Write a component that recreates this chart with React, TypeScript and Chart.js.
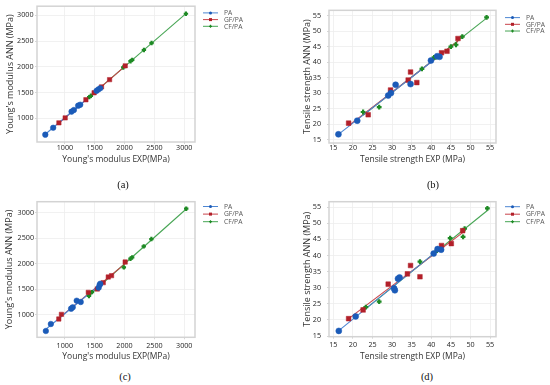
import React, { useEffect, useRef } from "react";
import { Chart, registerables } from "chart.js";

Chart.register(...registerables);

// ---------- shared labels / ticks ----------
const SERIES_NAMES = ["PA", "GF/PA", "CF/PA"];
const YOUNG_TICKS = [1000, 1500, 2000, 2500, 3000];
const TENSILE_TICKS = [15, 20, 25, 30, 35, 40, 45, 50, 55];
const YOUNG_X_TITLE = "Young's modulus EXP(MPa)";
const YOUNG_Y_TITLE = "Young's modulus ANN (MPa)";
const TENSILE_X_TITLE = "Tensile strength EXP (MPa)";
const TENSILE_Y_TITLE = "Tensile strength ANN (MPa)";
const CAPTIONS = ["(a)", "(b)", "(c)", "(d)"];

// ---------- panel (a) ----------
const aPaExp = [672, 804, 1112, 1151, 1223, 1257, 1531, 1559, 1592];
const aPaAnn = [680, 814, 1128, 1160, 1244, 1263, 1532, 1558, 1583];
const aGfExp = [900, 1005, 1352, 1490, 1614, 1749, 2011];
const aGfAnn = [910, 1006, 1359, 1494, 1609, 1750, 2019];
const aCfExp = [1408, 1436, 1978, 2100, 2128, 2324, 2452, 3028];
const aCfAnn = [1410, 1436, 1987, 2109, 2135, 2327, 2462, 3032];

// ---------- panel (b) ----------
const bPaExp = [16.3, 21.1, 29.0, 29.7, 30.9, 34.7, 39.9, 41.5, 42.1];
const bPaAnn = [16.8, 21.2, 29.3, 30.1, 32.8, 33.0, 40.6, 42.0, 41.8];
const bGfExp = [18.9, 23.9, 29.6, 34.1, 34.7, 36.3, 42.6, 44.0, 46.8];
const bGfAnn = [20.4, 23.1, 31.1, 34.3, 36.9, 33.5, 43.1, 43.6, 47.7];
const bCfExp = [22.6, 26.7, 37.6, 40.7, 41.2, 45.0, 46.3, 47.9, 54.1];
const bCfAnn = [24.0, 25.6, 37.9, 41.6, 41.7, 45.1, 45.7, 48.3, 54.5];

// ---------- panel (c) ----------
const cPaExp = [683, 767, 1106, 1133, 1200, 1267, 1567, 1583, 1594];
const cPaAnn = [687, 824, 1124, 1150, 1280, 1254, 1534, 1586, 1612];
const cGfExp = [900, 944, 1394, 1544, 1644, 1728, 1783, 2011];
const cGfAnn = [922, 1013, 1443, 1508, 1632, 1743, 1769, 2036];
const cCfExp = [1405, 1425, 1455, 1989, 2100, 2128, 2322, 2450, 3033];
const cCfAnn = [1372, 1425, 1448, 1932, 2101, 2127, 2342, 2485, 3078];

// ---------- panel (d) ----------
const dPaExp = [16.4, 20.7, 30.5, 30.7, 31.5, 31.9, 40.6, 41.6, 42.5];
const dPaAnn = [16.6, 21.1, 29.8, 29.2, 32.8, 33.2, 40.6, 42.0, 41.8];
const dGfExp = [18.9, 22.6, 29.0, 33.9, 34.7, 37.1, 42.6, 45.1, 48.0];
const dGfAnn = [20.4, 23.1, 31.1, 34.3, 36.9, 33.4, 43.1, 43.7, 47.7];
const dCfExp = [23.3, 26.7, 37.1, 41.4, 41.8, 44.8, 48.1, 48.5, 54.3];
const dCfAnn = [24.0, 25.7, 38.1, 41.5, 41.8, 45.4, 45.8, 48.3, 54.6];

// ---------- styles ----------
const FONT = "'Open Sans', 'Noto Sans', sans-serif";
const MARKER_COLORS = ["#1b5bb8", "#b2202a", "#1e8a24"];
const LINE_COLORS = ["#4d86d2", "#c8434a", "#47a554"];
const MARKER_STYLES = ["circle", "rect", "cross"];

type Series = { exp: number[]; ann: number[] };
type PanelCfg = {
  left: number;
  top: number;
  width: number;
  height: number;
  area: { l: number; t: number; r: number; b: number };
  xRange: [number, number];
  yRange: [number, number];
  ticks: number[];
  xTitle: string;
  yTitle: string;
  yLabelRight: number;
  yTitleCenter: number;
  xLabelCenter: number;
  xTitleCenter: number;
  series: Series[];
  markerR: number[];
  legendDx: number;
  legendDy: number;
  legendStep: number;
  caption: string;
  capX: number;
  capY: number;
};

function fitLine(xs: number[], ys: number[]) {
  const n = xs.length;
  const mx = xs.reduce((s, v) => s + v, 0) / n;
  const my = ys.reduce((s, v) => s + v, 0) / n;
  let sxx = 0;
  let sxy = 0;
  for (let i = 0; i < n; i++) {
    sxx += (xs[i] - mx) * (xs[i] - mx);
    sxy += (xs[i] - mx) * (ys[i] - my);
  }
  const k = sxy / sxx;
  const b0 = my - k * mx;
  const x0 = Math.min(...xs);
  const x1 = Math.max(...xs);
  return [
    { x: x0, y: k * x0 + b0 },
    { x: x1, y: k * x1 + b0 },
  ];
}

const framePlugin = {
  id: "frame",
  beforeDatasetsDraw(chart: any) {
    const { ctx, chartArea: a } = chart;
    ctx.save();
    ctx.strokeStyle = "#d3d3d3";
    ctx.lineWidth = 1.5;
    ctx.strokeRect(a.left, a.top, a.right - a.left, a.bottom - a.top);
    ctx.restore();
  },
};

function drawMarker(ctx: CanvasRenderingContext2D, style: string, x: number, y: number, r: number, color: string) {
  ctx.fillStyle = color;
  ctx.strokeStyle = color;
  if (style === "circle") {
    ctx.beginPath();
    ctx.arc(x, y, r, 0, Math.PI * 2);
    ctx.fill();
  } else if (style === "rect") {
    ctx.fillRect(x - r, y - r, 2 * r, 2 * r);
  } else {
    ctx.lineWidth = 1.2;
    ctx.beginPath();
    ctx.moveTo(x - r, y);
    ctx.lineTo(x + r, y);
    ctx.moveTo(x, y - r);
    ctx.lineTo(x, y + r);
    ctx.stroke();
  }
}

function Panel({ cfg }: { cfg: PanelCfg }) {
  const ref = useRef<HTMLCanvasElement | null>(null);
  useEffect(() => {
    if (!ref.current) return;
    const { area } = cfg;
    const datasets: any[] = [];
    cfg.series.forEach((s, i) => {
      datasets.push({
        label: SERIES_NAMES[i],
        data: s.exp.map((x, j) => ({ x, y: s.ann[j] })),
        showLine: false,
        pointStyle: MARKER_STYLES[i],
        pointRadius: cfg.markerR[i],
        pointBackgroundColor: MARKER_COLORS[i],
        pointBorderColor: MARKER_COLORS[i],
        pointBorderWidth: i === 2 ? 2.2 : 0.5,
        order: 0,
      });
    });
    cfg.series.forEach((s, i) => {
      datasets.push({
        label: SERIES_NAMES[i] + " fit",
        data: fitLine(s.exp, s.ann),
        showLine: true,
        pointRadius: 0,
        borderColor: LINE_COLORS[i],
        borderWidth: 1.1,
        order: 1,
      });
    });

    const legendPlugin = {
      id: "customLegend",
      afterDraw(chart: any) {
        const { ctx, chartArea: a } = chart;
        ctx.save();
        const x0 = a.right + cfg.legendDx;
        SERIES_NAMES.forEach((name, i) => {
          const y = a.top + cfg.legendDy + i * cfg.legendStep;
          ctx.strokeStyle = LINE_COLORS[i];
          ctx.lineWidth = 1;
          ctx.beginPath();
          ctx.moveTo(x0, y);
          ctx.lineTo(x0 + 15, y);
          ctx.stroke();
          drawMarker(ctx, MARKER_STYLES[i], x0 + 7.5, y, 1.5, MARKER_COLORS[i]);
          ctx.fillStyle = "#555";
          ctx.font = `6.7px ${FONT}`;
          ctx.textBaseline = "middle";
          ctx.textAlign = "left";
          ctx.fillText(name, x0 + 21, y + 0.3);
        });
        ctx.restore();
      },
    };

    const tickFont = { family: FONT, size: 7.2 };
    const xTitleFont = { family: FONT, size: 8.5 };
    const yTitleFont = { family: FONT, size: 9 };
    const tl = 2;
    const xPad = cfg.xLabelCenter - tl - 4.3;
    const yPad = area.l - tl - cfg.yLabelRight;
    const fmt = (v: any) => String(v);
    const chart = new Chart(ref.current, {
      type: "scatter",
      data: { datasets },
      plugins: [framePlugin, legendPlugin],
      options: {
        animation: false,
        responsive: false,
        events: [],
        layout: { padding: { left: 0, top: area.t, right: cfg.width - area.r, bottom: 0 } },
        plugins: { legend: { display: false }, tooltip: { enabled: false } },
        scales: {
          x: {
            type: "linear",
            min: cfg.xRange[0],
            max: cfg.xRange[1],
            afterBuildTicks: (s: any) => {
              s.ticks = cfg.ticks.map((v) => ({ value: v }));
            },
            afterFit: (s: any) => {
              s.height = cfg.height - area.b;
            },
            grid: { color: "#ededed", lineWidth: 0.8, tickLength: tl, tickColor: "#cccccc" },
            border: { display: false },
            ticks: { font: tickFont, color: "#262626", padding: xPad, maxRotation: 0, autoSkip: false, callback: fmt },
            title: {
              display: true,
              text: cfg.xTitle,
              font: xTitleFont,
              color: "#333",
              padding: { top: 0, bottom: cfg.height - 5.1 - cfg.xTitleCenter },
            },
          },
          y: {
            type: "linear",
            min: cfg.yRange[0],
            max: cfg.yRange[1],
            afterBuildTicks: (s: any) => {
              s.ticks = cfg.ticks.map((v) => ({ value: v }));
            },
            afterFit: (s: any) => {
              s.width = area.l;
            },
            grid: { color: "#ededed", lineWidth: 0.8, tickLength: tl, tickColor: "#cccccc" },
            border: { display: false },
            ticks: { font: tickFont, color: "#262626", padding: yPad, autoSkip: false, callback: fmt },
            title: {
              display: true,
              text: cfg.yTitle,
              font: yTitleFont,
              color: "#333",
              padding: { top: cfg.yTitleCenter - 5.4, bottom: 0 },
            },
          },
        },
      } as any,
    });
    return () => chart.destroy();
  }, [cfg]);

  return (
    <canvas
      ref={ref}
      width={cfg.width}
      height={cfg.height}
      style={{ position: "absolute", left: cfg.left, top: cfg.top, width: cfg.width, height: cfg.height }}
    />
  );
}

function Caption({ cfg }: { cfg: PanelCfg }) {
  return (
    <div
      style={{
        position: "absolute",
        left: cfg.capX - 20,
        top: cfg.capY - 7,
        width: 40,
        textAlign: "center",
        fontFamily: "'Liberation Serif', 'Times New Roman', serif",
        fontSize: 10.5,
        lineHeight: "14px",
        color: "#111",
      }}
    >
      {cfg.caption}
    </div>
  );
}

const PANELS: PanelCfg[] = [
  {
    left: 0, top: 0, width: 275, height: 175,
    area: { l: 37, t: 5, r: 195, b: 142 },
    xRange: [533, 3180], yRange: [537, 3179], ticks: YOUNG_TICKS,
    xTitle: YOUNG_X_TITLE, yTitle: YOUNG_Y_TITLE,
    yLabelRight: 33.5, yTitleCenter: 10.3, xLabelCenter: 6, xTitleCenter: 160,
    series: [{ exp: aPaExp, ann: aPaAnn }, { exp: aGfExp, ann: aGfAnn }, { exp: aCfExp, ann: aCfAnn }],
    markerR: [2.8, 3.1, 2.2],
    legendDx: 8, legendDy: 6.7, legendStep: 6.7,
    caption: CAPTIONS[0], capX: 123, capY: 185,
  },
  {
    left: 275, top: 0, width: 275, height: 175,
    area: { l: 54, t: 5, r: 221, b: 143 },
    xRange: [13.9, 56.5], yRange: [14.0, 56.8], ticks: TENSILE_TICKS,
    xTitle: TENSILE_X_TITLE, yTitle: TENSILE_Y_TITLE,
    yLabelRight: 46, yTitleCenter: 32, xLabelCenter: 4.8, xTitleCenter: 160,
    series: [{ exp: bPaExp, ann: bPaAnn }, { exp: bGfExp, ann: bGfAnn }, { exp: bCfExp, ann: bCfAnn }],
    markerR: [3, 3.3, 2.4],
    legendDx: 9, legendDy: 7.3, legendStep: 6.7,
    caption: CAPTIONS[1], capX: 433, capY: 185,
  },
  {
    left: 0, top: 190, width: 275, height: 175,
    area: { l: 37, t: 11.7, r: 195, b: 147.3 },
    xRange: [535, 3180], yRange: [564, 3215], ticks: YOUNG_TICKS,
    xTitle: YOUNG_X_TITLE, yTitle: YOUNG_Y_TITLE,
    yLabelRight: 34, yTitleCenter: 9.5, xLabelCenter: 8.5, xTitleCenter: 166.7,
    series: [{ exp: cPaExp, ann: cPaAnn }, { exp: cGfExp, ann: cGfAnn }, { exp: cCfExp, ann: cCfAnn }],
    markerR: [2.8, 3.1, 2.2],
    legendDx: 8, legendDy: 4.8, legendStep: 7.6,
    caption: CAPTIONS[2], capX: 125, capY: 377,
  },
  {
    left: 275, top: 190, width: 275, height: 175,
    area: { l: 54, t: 11.7, r: 221, b: 146.7 },
    xRange: [13.9, 56.5], yRange: [14.8, 56.7], ticks: TENSILE_TICKS,
    xTitle: TENSILE_X_TITLE, yTitle: TENSILE_Y_TITLE,
    yLabelRight: 46, yTitleCenter: 32, xLabelCenter: 8.3, xTitleCenter: 166.7,
    series: [{ exp: dPaExp, ann: dPaAnn }, { exp: dGfExp, ann: dGfAnn }, { exp: dCfExp, ann: dCfAnn }],
    markerR: [3, 3.3, 2.4],
    legendDx: 9, legendDy: 5, legendStep: 7.5,
    caption: CAPTIONS[3], capX: 427, capY: 377,
  },
];

export default function App() {
  return (
    <div style={{ position: "absolute", left: 0, top: 0, width: 550, height: 385, background: "#fff", overflow: "hidden" }}>
      {PANELS.map((p, i) => (
        <Panel key={"p" + i} cfg={p} />
      ))}
      {PANELS.map((p, i) => (
        <Caption key={"c" + i} cfg={p} />
      ))}
    </div>
  );
}
